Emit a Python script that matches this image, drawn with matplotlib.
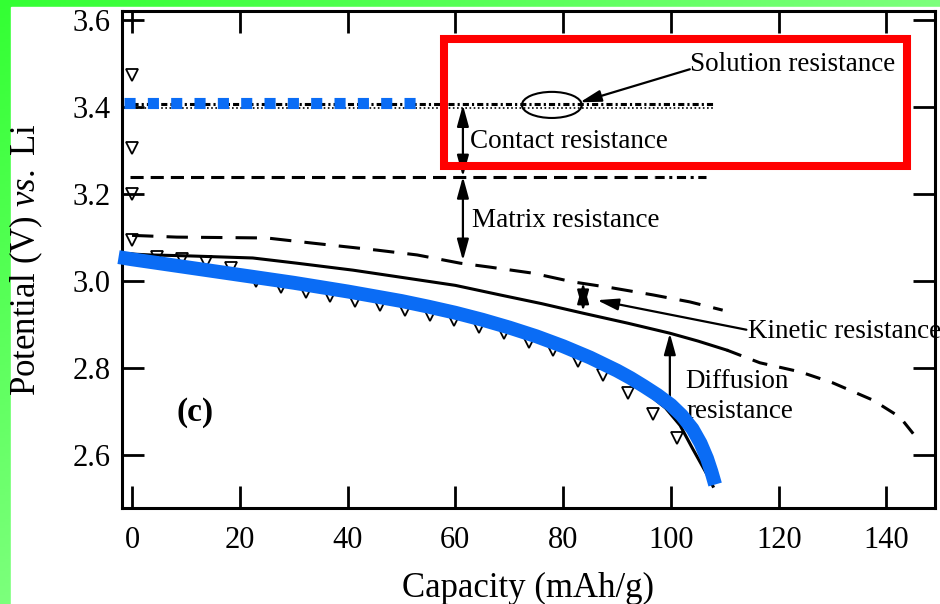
import numpy as np
import matplotlib.pyplot as plt
from matplotlib.patches import Rectangle, Ellipse

plt.rcParams['font.family'] = ['Liberation Serif', 'DejaVu Serif']
plt.rcParams['mathtext.fontset'] = 'custom'
plt.rcParams['mathtext.rm'] = 'Liberation Serif'
plt.rcParams['mathtext.it'] = 'Liberation Serif:italic'

# measured discharge points (open triangles)
tri_x = [0, 0, 0, 0, 4.6, 9.2, 13.8, 18.4, 23.0, 27.6, 32.2, 36.8, 41.4, 46.0,
         50.6, 55.2, 59.8, 64.4, 69.0, 73.6, 78.2, 82.8, 87.4, 92.0, 96.6, 101.2]
tri_y = [3.474, 3.306, 3.200, 3.094, 3.056, 3.050, 3.044, 3.031, 3.000, 2.986,
         2.975, 2.966, 2.954, 2.945, 2.933, 2.922, 2.910, 2.894, 2.880, 2.860,
         2.841, 2.816, 2.784, 2.742, 2.694, 2.639]

# long dashed curve (after matrix resistance)
mat_x = [0, 8.3, 25, 33.6, 45.5, 52.9, 60.9, 66.4, 74.4, 81.8, 89.2, 96.7, 103.5, 109.6]
mat_y = [3.105, 3.101, 3.099, 3.087, 3.071, 3.060, 3.041, 3.032, 3.018, 2.998,
         2.984, 2.968, 2.952, 2.933]

# solid curve (after kinetic resistance) + its dashed tail
kin_x = [0, 3.3, 10, 22.4, 30.6, 41, 49.7, 60, 68.3, 76, 83.7, 92, 99.8, 105, 110.4]
kin_y = [3.062, 3.060, 3.058, 3.053, 3.041, 3.025, 3.009, 2.990, 2.968, 2.948,
         2.926, 2.903, 2.880, 2.862, 2.841]
tail_x = [110.4, 116.5, 124, 130, 137.5, 142.5, 145.6]
tail_y = [2.841, 2.812, 2.791, 2.766, 2.726, 2.687, 2.639]

# solid curve (after diffusion resistance)
dif_x = [0, 10, 20, 30, 40, 50, 60, 70, 80, 90, 95, 99, 101.7, 104, 106.7, 107.8]
dif_y = [3.062, 3.040, 3.018, 2.998, 2.976, 2.955, 2.928, 2.892, 2.848, 2.788,
         2.748, 2.708, 2.668, 2.615, 2.555, 2.528]

# blue highlighted curve
fit_x = [-2.5, 0, 5, 10, 15, 20, 25, 30, 35, 40, 45, 50, 55, 60, 65, 70, 75, 80,
         85, 90, 92.5, 95, 97.5, 100, 102, 104, 105.5, 106.7, 107.5, 108.2]
fit_y = [3.055, 3.050, 3.041, 3.032, 3.023, 3.014, 3.005, 2.996, 2.986, 2.976,
         2.965, 2.954, 2.941, 2.927, 2.911, 2.893, 2.873, 2.850, 2.824, 2.794,
         2.777, 2.758, 2.738, 2.715, 2.691, 2.660, 2.627, 2.592, 2.562, 2.532]

# horizontal levels
sol_v = 3.405
sol_span = [0, 108]
cont_v = 3.24
cont_span = [-0.4, 97]
cont_tail = [97, 106.5]
ocv_v = 3.41
ocv_span = [-1.5, 53.9]

xticks = [0, 20, 40, 60, 80, 100, 120, 140]
yticks = [2.6, 2.8, 3.0, 3.2, 3.4, 3.6]

blue = '#0a6cf5'

fig = plt.figure(figsize=(9.4, 6.04), dpi=100)

# green gradient frame on the top and left edges
bg = fig.add_axes([0, 0, 1, 1], zorder=-10)
bg.axis('off')
gx, gy = np.meshgrid(np.linspace(0, 1, 200), np.linspace(0, 1, 200))
t = np.clip((gx + gy) / 1.4, 0, 1)
img = np.dstack([0.2 + 0.4 * t, np.ones_like(t), 0.2 + 0.4 * t])
bg.imshow(img, extent=[0, 1, 0, 1], aspect='auto', origin='upper')
bg.add_patch(Rectangle((11 / 940, 0), 1, 1 - 7 / 604, color='white',
                       transform=bg.transAxes))
bg.set_xlim(0, 1)
bg.set_ylim(0, 1)

ax = fig.add_axes([122 / 940, 1 - 508 / 604, 813 / 940, 497 / 604])
ax.set_xlim(-1.86, 149)
ax.set_ylim(2.478, 3.621)

ax.plot(tri_x, tri_y, linestyle='none', marker='v', ms=8, mfc='none', mec='k', mew=1.3)

ax.plot(sol_span, [sol_v + 0.003] * 2, color='k', lw=2.2, linestyle=(0, (2, 1, 0.7, 1)))
ax.plot(sol_span, [sol_v - 0.006] * 2, color='k', lw=1.2, linestyle=(0, (1, 1.5)))
ax.plot(cont_span, [cont_v] * 2, color='k', lw=2.2, linestyle=(0, (4.3, 2.3)))
ax.plot(cont_tail, [cont_v] * 2, color='k', lw=2.2, linestyle=(0, (3, 1.5, 1, 1.5)))

ax.plot(mat_x, mat_y, color='k', lw=2.2, linestyle=(0, (7, 4.3)))
ax.plot(kin_x, kin_y, color='k', lw=2.2)
ax.plot(tail_x, tail_y, color='k', lw=2.2, linestyle=(0, (5, 4)))
ax.plot(dif_x, dif_y, color='k', lw=2.2)

ax.plot(ocv_span, [ocv_v] * 2, color=blue, lw=8, linestyle=(0, (1, 1.1)),
        dash_capstyle='butt', zorder=6)
ax.plot(fit_x, fit_y, color=blue, lw=10, solid_capstyle='butt',
        solid_joinstyle='round', zorder=6, clip_on=False)

ax.add_patch(Rectangle((57.9, 3.264), 85.9, 0.292, fill=False, ec='#ff0000',
                       lw=5.8, joinstyle='miter', zorder=7))
ax.add_patch(Ellipse((77.9, 3.405), 11.1, 0.060, fill=False, ec='k', lw=1.5))

dbl = dict(arrowstyle='<|-|>,head_length=0.8,head_width=0.22', mutation_scale=16,
           lw=1.6, color='k', shrinkA=0, shrinkB=0)
one = dict(arrowstyle='-|>,head_length=0.8,head_width=0.22', mutation_scale=16,
           lw=1.6, color='k', shrinkA=0, shrinkB=0)
ax.annotate('', xy=(61.4, 3.24), xytext=(61.4, 3.405), arrowprops=dbl)
ax.annotate('', xy=(61.4, 3.047), xytext=(61.4, 3.24), arrowprops=dbl)
ax.annotate('', xy=(83.7, 2.93), xytext=(83.7, 2.997), arrowprops=dbl)
ax.annotate('', xy=(83.1, 3.411), xytext=(103.5, 3.487), arrowprops=one)
ax.annotate('', xy=(86.3, 2.956), xytext=(114.0, 2.888), arrowprops=one)
ax.annotate('', xy=(99.8, 2.88), xytext=(99.8, 2.72), arrowprops=one)

fs = 19.5
ax.text(103.5, 3.499, 'Solution resistance', fontsize=fs, va='center')
ax.text(62.7, 3.322, 'Contact resistance', fontsize=fs, va='center')
ax.text(63.1, 3.14, 'Matrix resistance', fontsize=fs, va='center')
ax.text(114.3, 2.885, 'Kinetic resistance', fontsize=fs, va='center')
ax.text(102.6, 2.77, 'Diffusion', fontsize=fs, va='center')
ax.text(102.9, 2.70, 'resistance', fontsize=fs, va='center')
ax.text(11.7, 2.697, '(c)', fontsize=24, fontweight='bold', ha='center', va='center')

ax.set_xticks(xticks)
ax.set_yticks(yticks)
ax.set_xticklabels([str(v) for v in xticks])
ax.set_yticklabels(['%.1f' % v for v in yticks])
ax.tick_params(direction='in', length=16, width=2, top=True, right=True, labelsize=22)
ax.tick_params(axis='y', pad=8)
ax.tick_params(axis='x', pad=13)
for s in ax.spines.values():
    s.set_linewidth(2.2)

ax.set_xlabel('Capacity (mAh/g)', fontsize=25)
ax.set_ylabel(r'Potential (V) $\mathit{vs.}$ Li', fontsize=25)
ax.xaxis.set_label_coords(0.5, -0.129)
ax.yaxis.set_label_coords(-0.095, 0.5)

fig.savefig('out.png', dpi=100)
